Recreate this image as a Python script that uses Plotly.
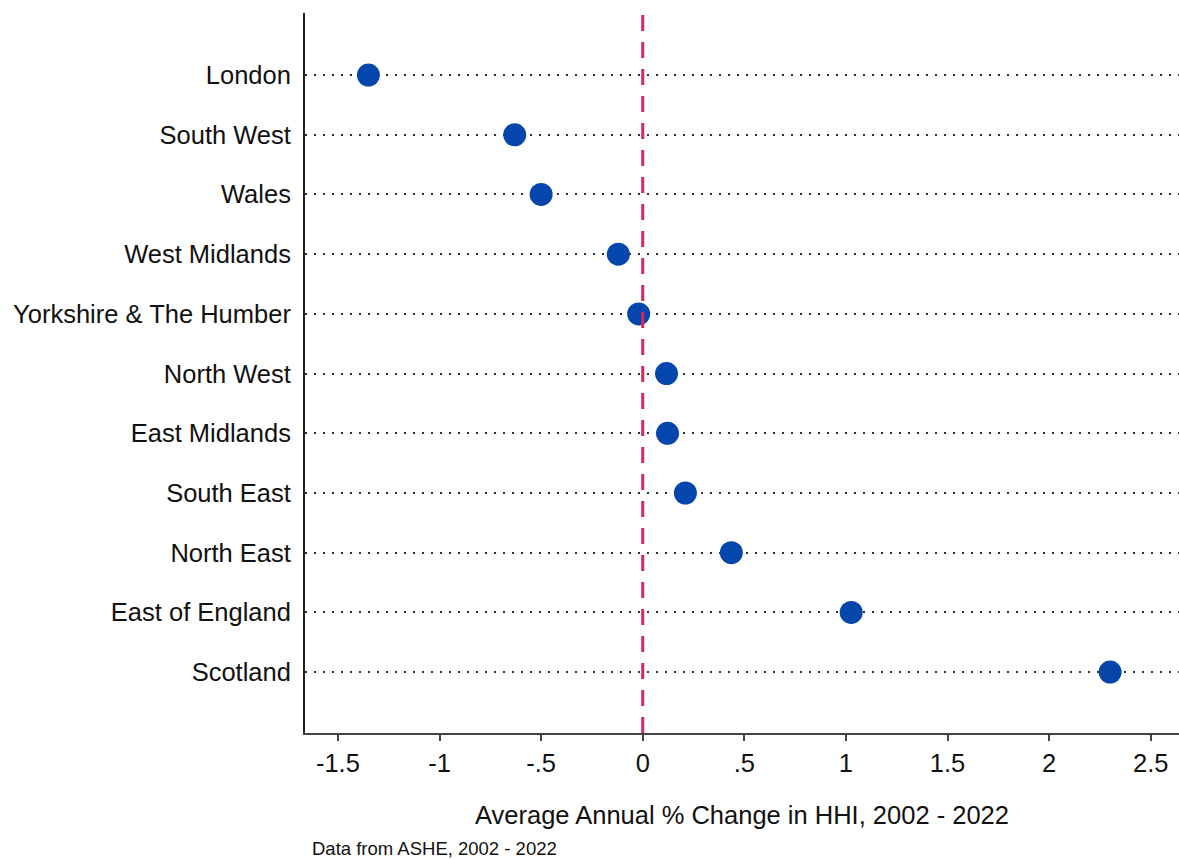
import plotly.graph_objects as go

# regions ordered top to bottom, avg annual % change in HHI
regions = ["London", "South West", "Wales", "West Midlands", "Yorkshire & The Humber",
           "North West", "East Midlands", "South East", "North East", "East of England", "Scotland"]
change = [-1.35, -0.63, -0.50, -0.12, -0.02, 0.117, 0.122, 0.21, 0.436, 1.026, 2.30]

x_ticks = [-1.5, -1, -0.5, 0, 0.5, 1, 1.5, 2, 2.5]
x_ticklabels = ["-1.5", "-1", "-.5", "0", ".5", "1", "1.5", "2", "2.5"]

FONT = "Liberation Sans, Arial, sans-serif"

fig = go.Figure()
fig.add_trace(go.Scatter(
    x=change, y=regions, mode="markers",
    marker=dict(size=23, color="#0446AC", line=dict(width=0)),
    showlegend=False,
))

# dashed reference line at zero
fig.add_shape(type="line", x0=0, x1=0, xref="x", y0=0, y1=1, yref="paper",
              line=dict(color="#D42A5A", width=3, dash="16px,11px"), layer="above")

fig.update_layout(
    width=1179, height=859,
    margin=dict(l=305, r=0, t=13, b=126),
    plot_bgcolor="white", paper_bgcolor="white",
    font=dict(family=FONT, size=25.5, color="#111111"),
    xaxis=dict(
        range=[-1.662, 2.639],
        tickvals=x_ticks, ticktext=x_ticklabels,
        showgrid=False, zeroline=False,
        showline=True, linecolor="#444444", linewidth=2,
        ticks="outside", ticklen=6, tickwidth=2, tickcolor="#444444",
        tickfont=dict(size=25.5),
        title=dict(text="Average Annual % Change in HHI, 2002 - 2022",
                   font=dict(size=25.5), standoff=31),
    ),
    yaxis=dict(
        categoryorder="array", categoryarray=regions,
        range=[11.02, -1.04],
        showgrid=True, gridcolor="#333333", gridwidth=1.6, griddash="2px,7px",
        zeroline=False,
        showline=True, linecolor="#222222", linewidth=2,
        ticks="", ticklabelstandoff=7,
        tickfont=dict(size=25.5),
    ),
)

fig.add_annotation(
    text="Data from ASHE, 2002 - 2022",
    xref="paper", yref="paper", x=0.006, y=-0.16,
    xanchor="left", yanchor="middle", showarrow=False,
    font=dict(size=18.5, color="#111111"),
)

# drop the default page margin so the figure fills the window exactly
fig.write_html("out.html", config={"displayModeBar": False},
               post_script="document.body.style.margin='0';")
